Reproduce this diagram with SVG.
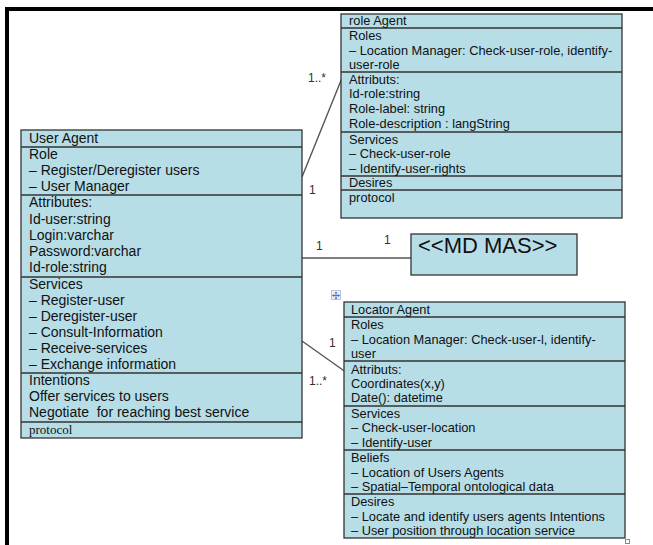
<svg xmlns="http://www.w3.org/2000/svg" width="653" height="545" viewBox="0 0 653 545">
  <style>
    .box { fill: #b7dde7; stroke: #333; stroke-width: 1.3; }
    .div { stroke: #333; stroke-width: 1.3; }
    .t14 { font-family: "Liberation Sans", Arial, sans-serif; font-size: 14px; fill: #111; }
    .t13 { font-family: "Liberation Sans", Arial, sans-serif; font-size: 12.8px; fill: #111; }
    .serif { font-family: "Liberation Serif", "Times New Roman", serif; font-size: 13px; fill: #111; }
    .big { font-family: "Liberation Sans", Arial, sans-serif; font-size: 22px; fill: #111; }
    .mult { font-family: "Liberation Sans", Arial, sans-serif; font-size: 12px; fill: #3a3020; }
    .conn { stroke: #555; stroke-width: 1.4; fill: none; }
  </style>

  <!-- page frame -->
  <rect x="5" y="7" width="4" height="538" fill="#000"/>
  <rect x="5" y="7" width="648" height="4" fill="#000"/>

  <!-- associations -->
  <g id="connectors">
    <line class="conn" x1="302" y1="177" x2="342" y2="78"/>
    <line class="conn" x1="302" y1="258" x2="411" y2="258"/>
    <line class="conn" x1="302" y1="341" x2="350" y2="375"/>
    <text class="mult" x="308" y="82">1..*</text>
    <text class="mult" x="309" y="194">1</text>
    <text class="mult" x="316" y="250">1</text>
    <text class="mult" x="384" y="244">1</text>
    <text class="mult" x="329" y="347">1</text>
    <text class="mult" x="309" y="385">1..*</text>
  </g>

  <!-- User Agent -->
  <g id="user-agent">
    <rect class="box" x="21" y="130" width="281" height="308"/>
    <line class="div" x1="21" y1="147" x2="302" y2="147"/>
    <line class="div" x1="21" y1="195" x2="302" y2="195"/>
    <line class="div" x1="21" y1="277" x2="302" y2="277"/>
    <line class="div" x1="21" y1="373" x2="302" y2="373"/>
    <line class="div" x1="21" y1="422" x2="302" y2="422"/>
    <text class="t14" x="29" y="143">User Agent</text>
    <text class="t14" x="29" y="159">Role</text>
    <text class="t14" x="29" y="175">– Register/Deregister users</text>
    <text class="t14" x="29" y="191">– User Manager</text>
    <text class="t14" x="29" y="207">Attributes:</text>
    <text class="t14" x="29" y="224">Id-user:string</text>
    <text class="t14" x="29" y="240">Login:varchar</text>
    <text class="t14" x="29" y="256">Password:varchar</text>
    <text class="t14" x="29" y="272">Id-role:string</text>
    <text class="t14" x="29" y="289">Services</text>
    <text class="t14" x="29" y="305">– Register-user</text>
    <text class="t14" x="29" y="321">– Deregister-user</text>
    <text class="t14" x="29" y="337">– Consult-Information</text>
    <text class="t14" x="29" y="353">– Receive-services</text>
    <text class="t14" x="29" y="369">– Exchange information</text>
    <text class="t14" x="29" y="385">Intentions</text>
    <text class="t14" x="29" y="401">Offer services to users</text>
    <text class="t14" x="29" y="417" xml:space="preserve">Negotiate  for reaching best service</text>
    <text class="serif" x="29" y="434">protocol</text>
  </g>

  <!-- role Agent -->
  <g id="role-agent">
    <rect class="box" x="341" y="14" width="281" height="204"/>
    <line class="div" x1="341" y1="28" x2="622" y2="28"/>
    <line class="div" x1="341" y1="72" x2="622" y2="72"/>
    <line class="div" x1="341" y1="132" x2="622" y2="132"/>
    <line class="div" x1="341" y1="176" x2="622" y2="176"/>
    <line class="div" x1="341" y1="190" x2="622" y2="190"/>
    <text class="t13" x="349" y="25">role Agent</text>
    <text class="t13" x="349" y="40">Roles</text>
    <text class="t13" x="349" y="55">– Location Manager: Check-user-role, identify-</text>
    <text class="t13" x="349" y="69">user-role</text>
    <text class="t13" x="349" y="84">Attributs:</text>
    <text class="t13" x="349" y="98">Id-role:string</text>
    <text class="t13" x="349" y="113">Role-label: string</text>
    <text class="t13" x="349" y="128">Role-description : langString</text>
    <text class="t13" x="349" y="144">Services</text>
    <text class="t13" x="349" y="158">– Check-user-role</text>
    <text class="t13" x="349" y="173">– Identify-user-rights</text>
    <text class="t13" x="349" y="187">Desires</text>
    <text class="t13" x="349" y="202">protocol</text>
  </g>

  <!-- MD MAS -->
  <g id="md-mas">
    <rect class="box" x="411" y="234" width="166" height="41"/>
    <text class="big" x="418" y="253">&lt;&lt;MD MAS&gt;&gt;</text>
  </g>

  <!-- Locator Agent -->
  <g id="locator-agent">
    <rect class="box" x="344" y="302" width="281" height="236"/>
    <line class="div" x1="344" y1="317" x2="625" y2="317"/>
    <line class="div" x1="344" y1="361" x2="625" y2="361"/>
    <line class="div" x1="344" y1="406" x2="625" y2="406"/>
    <line class="div" x1="344" y1="450" x2="625" y2="450"/>
    <line class="div" x1="344" y1="494" x2="625" y2="494"/>
    <text class="t13" x="351" y="314">Locator Agent</text>
    <text class="t13" x="351" y="329">Roles</text>
    <text class="t13" x="351" y="344">– Location Manager: Check-user-l, identify-</text>
    <text class="t13" x="351" y="358">user</text>
    <text class="t13" x="351" y="374">Attributs:</text>
    <text class="t13" x="351" y="388">Coordinates(x,y)</text>
    <text class="t13" x="351" y="402">Date(): datetime</text>
    <text class="t13" x="351" y="418">Services</text>
    <text class="t13" x="351" y="432">– Check-user-location</text>
    <text class="t13" x="351" y="447">– Identify-user</text>
    <text class="t13" x="351" y="462">Beliefs</text>
    <text class="t13" x="351" y="477">– Location of Users Agents</text>
    <text class="t13" x="351" y="491">– Spatial–Temporal ontological data</text>
    <text class="t13" x="351" y="506">Desires</text>
    <text class="t13" x="351" y="521">– Locate and identify users agents Intentions</text>
    <text class="t13" x="351" y="535">– User position through location service</text>
  </g>

  <!-- editor handles -->
  <g id="move-handle">
    <rect x="331.5" y="290.5" width="9" height="9" fill="#eef2f8" stroke="#b8c4d4" stroke-width="1"/>
    <path d="M336 292 v7 M332.5 295.5 h7 M334.8 293.2 L336 292 L337.2 293.2 M334.8 297.8 L336 299 L337.2 297.8 M333.7 294.3 L332.5 295.5 L333.7 296.7 M338.3 294.3 L339.5 295.5 L338.3 296.7" stroke="#4a78c8" stroke-width="1" fill="none"/>
  </g>
  <rect x="625.5" y="539.5" width="4" height="4" fill="#fff" stroke="#888" stroke-width="1"/>
</svg>
